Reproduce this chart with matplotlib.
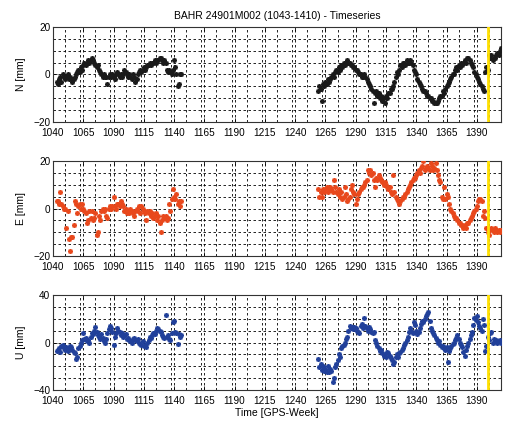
import matplotlib
matplotlib.use("Agg")
import matplotlib.pyplot as plt
import numpy as np
from matplotlib.ticker import MultipleLocator

plt.rcParams['font.family'] = ['Liberation Sans', 'DejaVu Sans']
plt.rcParams['font.size'] = 7.5

# GPS weeks of the two observation spans
weeks_a = np.arange(1043, 1147)
weeks_b = np.arange(1259, 1411)
break_week = 1399  # yellow marker line

n_a = [-3, -4, -2, -1, -3, 0, -1, -2, -1, 0,
       -2, -1, -2, -3, -2, -1, 0, 1, 2, 1,
       3, 2, 4, 5, 4, 5, 6, 5, 6, 7,
       6, 5, 4, 3, 4, 2, 1, 0, -1, 0,
       -1, -1, -4, -1, 0, -1, 0, -1, -2, 0,
       1, 0, -1, 0, -1, 0, 2, 1, 0, -1,
       0, -1, -2, 0, -1, -3, -2, 0, 1, 2,
       1, 2, 3, 2, 3, 4, 4, 5, 4, 5,
       5, 6, 5, 6, 6, 7, 7, 6, 5, 6,
       5, 2, 1, 2, 1, 0, 2, 6, 3, 0,
       -5, -4, 0, 0]
n_b = [-7, -5, -6, -11, -4, -5, -3, -4, -2, -3,
       -2, -1, 0, -1, 1, 2, 1, 3, 2, 4,
       3, 5, 4, 5, 6, 5, 5, 4, 4, 3,
       3, 2, 2, 1, 0, 0, -1, -1, 0, -1,
       -2, -3, -4, -5, -6, -7, -12, -8, -7, -9,
       -8, -10, -9, -11, -10, -12, -9, -10, -8, -8,
       -6, -6, -5, -3, -1, 1, 0, 2, 4, 3,
       5, 5, 4, 6, 5, 5, 6, 5, 4, 2,
       1, 0, -2, -3, -4, -5, -6, -7, -7, -8,
       -9, -9, -10, -10, -11, -11, -12, -12, -12, -11,
       -10, -9, -9, -7, -8, -6, -5, -4, -3, -2,
       -1, 0, 0, 2, 3, 2, 4, 3, 5, 4,
       5, 6, 5, 7, 7, 6, 5, 4, 3, 1,
       0, -1, -2, -3, -4, -5, -6, -7, 1, 3,
       2, 8, 7, 8, 6, 7, 7, 8, 9, 8,
       10, 11]

e_a = [3, 3, 2, 7, 2, 1, 0, 0, -8, -1,
       -13, -18, -12, -12, -7, 3, 2, -2, 1, 2,
       0, 2, 0, -1, -2, -6, -5, -1, -4, -1,
       -5, -4, -2, -11, -10, -3, -5, -1, 0, -1,
       0, -3, -4, 0, 1, 0, 1, 5, 1, 0,
       2, 2, 1, 3, 2, 1, -1, 0, -2, -1,
       -2, 0, -1, -2, -3, -1, 0, -1, 1, -2,
       1, 0, -1, -2, -5, -1, -2, -1, -3, -2,
       -4, -3, -2, -5, -3, -6, -10, -5, -3, -4,
       -3, -5, -4, 2, -1, 4, 8, 5, 4, 6,
       2, 3, 1, 3]
e_b = [8, 5, 7, 5, 8, 7, 8, 9, 7, 8,
       9, 8, 7, 12, 9, 7, 6, 8, 5, 7,
       4, 5, 9, 6, 3, 4, 5, 8, 10, 7,
       6, 2, 4, 6, 7, 8, 9, 9, 10, 11,
       12, 16, 15, 16, 14, 15, 12, 9, 13, 12,
       14, 13, 12, 11, 10, 11, 10, 9, 8, 9,
       7, 6, 14, 7, 5, 4, 3, 2, 3, 4,
       5, 5, 6, 7, 8, 9, 10, 11, 12, 13,
       13, 14, 15, 16, 15, 17, 18, 20, 16, 17,
       18, 17, 16, 19, 18, 16, 17, 19, 16, 14,
       12, 11, 5, 4, 9, 4, 6, 5, 2, 0,
       -1, -2, -3, -4, -4, -5, -6, -6, -7, -7,
       -8, -7, -8, -6, -6, -5, -4, -3, -2, -1,
       0, 1, 3, 4, 4, 3, -3, -1, -4, -8,
       -10, -11, -9, -8, -9, -10, -8, -9, -10, -9,
       -10, -9]

u_a = [-7, -6, -5, -8, -3, -2, -5, -6, -4, -7,
       -5, -3, -4, -6, -8, -9, -14, -12, -5, -3,
       0, 2, 8, 3, 4, 1, 2, 0, 5, 8,
       7, 10, 13, 9, 6, 5, 3, 7, 4, 1,
       0, 3, 8, 11, 14, 12, 9, -2, 5, 8,
       12, 10, 9, 6, 8, 5, 6, 7, 3, 4,
       2, 1, 0, 3, 4, 2, 1, 3, 0, -1,
       -2, 1, -3, -2, -4, 0, 2, 5, 4, 6,
       8, 7, 10, 12, 11, 10, 9, 6, 5, 4,
       23, 5, 6, 3, 2, 8, 17, 18, 9, 8,
       -1, 7, 5, 6]
u_b = [-14, -21, -18, -23, -20, -24, -22, -25, -20, -25,
       -22, -24, -33, -30, -21, -18, -15, -10, -12, -5,
       -3, -2, 0, 3, 5, 10, 14, 12, 13, 11,
       13, 12, 10, 9, 8, 14, 16, 12, 21, 14,
       12, 10, 13, 11, 9, 8, 9, 2, 0, -3,
       -5, -7, -6, -9, -11, -10, -12, -8, -9, -11,
       -13, -15, -18, -16, -12, -10, -12, -9, -8, -6,
       -5, -2, 0, 2, 5, 9, 12, 10, 8, 17,
       15, 10, 7, 9, 12, 16, 18, 17, 20, 22,
       24, 26, 18, 12, 10, 8, 6, 4, 2, 0,
       1, -2, -4, -3, -5, -6, -4, -16, -7, -5,
       -3, -1, 0, 2, 4, 6, 3, 0, -2, -4,
       -8, -11, -6, -3, 0, 3, 6, 9, 15, 21,
       19, 22, 17, 14, 12, 10, 20, 15, -7, -3,
       5, 2, 8, 9, 0, 3, 1, 2, 0, 1,
       2, 0]

panels = [
    ("N [mm]", n_a, n_b, "#1a1a1a", 20, 5),
    ("E [mm]", e_a, e_b, "#e8481c", 20, 5),
    ("U [mm]", u_a, u_b, "#21409a", 40, 10),
]
# axes boxes in figure fractions (left, bottom, width, height)
boxes = [(0.1047, 0.7102, 0.8854, 0.2257),
         (0.1047, 0.3919, 0.8854, 0.2257),
         (0.1047, 0.0736, 0.8854, 0.2257)]

fig = plt.figure(figsize=(5.06, 4.21), dpi=100)
axes = []
for (label, va, vb, col, lim, step), box in zip(panels, boxes):
    ax = fig.add_axes(box)
    x = np.concatenate([weeks_a, weeks_b])
    y = np.concatenate([va, vb])
    ax.plot(x, y, linestyle='none', marker=(8, 2, 0), markersize=3.6,
            markeredgewidth=0.8, color=col, zorder=3)
    ax.axvline(break_week, color='#ffe000', lw=2, zorder=4)
    ax.set_xlim(1040, 1410)
    ax.set_ylim(-lim, lim)
    ax.xaxis.set_minor_locator(MultipleLocator(12.5))
    ax.yaxis.set_major_locator(MultipleLocator(lim))
    ax.yaxis.set_minor_locator(MultipleLocator(step))
    ax.set_xticks(np.arange(1040, 1391, 25))
    ax.grid(True, which='both', color='black', linestyle=(0, (3, 3)),
            linewidth=0.6, zorder=1)
    ax.tick_params(direction='in', which='both', top=True, right=True,
                   length=3, width=0.6, labelsize=7.2)
    ax.tick_params(axis='x', pad=4)
    ax.tick_params(axis='y', pad=2)
    ax.tick_params(which='minor', length=0)
    for s in ax.spines.values():
        s.set_color('#333333')
        s.set_linewidth(0.8)
    ax.set_ylabel(label, fontsize=7.5, labelpad=5)
    axes.append(ax)

axes[0].set_title("BAHR 24901M002 (1043-1410) - Timeseries", fontsize=7.5, pad=6)
axes[2].set_xlabel("Time [GPS-Week]", fontsize=7.5, labelpad=2)

fig.savefig("out.png", dpi=100)
